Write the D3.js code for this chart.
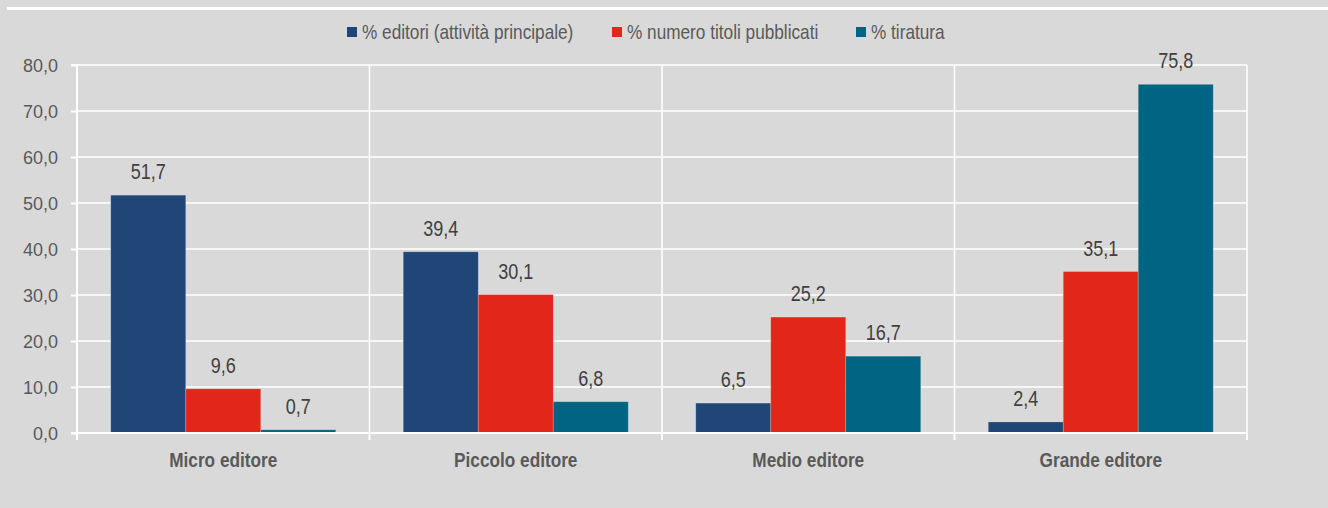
<!DOCTYPE html>
<html>
<head>
<meta charset="utf-8">
<script src="https://cdn.jsdelivr.net/npm/d3@7"></script>
<style>
  html, body { margin: 0; padding: 0; background: #d9d9d9; }
  svg { display: block; }
  text { font-family: "Liberation Sans", Arial, sans-serif; }
</style>
</head>
<body>
<svg id="chart" width="1328" height="508"></svg>
<script>
const categories = ["Micro editore", "Piccolo editore", "Medio editore", "Grande editore"];
const seriesNames = ["% editori (attività principale)", "% numero titoli pubblicati", "% tiratura"];
const seriesColors = ["#1f4677", "#e3261a", "#006482"];
const editori = [51.7, 39.4, 6.5, 2.4];
const titoli = [9.6, 30.1, 25.2, 35.1];
const tiratura = [0.7, 6.8, 16.7, 75.8];
const yTicks = [0, 10, 20, 30, 40, 50, 60, 70, 80];

const seriesValues = [editori, titoli, tiratura];
const fmt = v => v.toFixed(1).replace(".", ",");
const NARROW = 0.82; // narrow-face emulation

(function () {
const svg = d3.select("#chart");
const W = 1328, H = 508;
const mLeft = 77, mRight = 1247, mTop = 65, mBottom = 433;

svg.append("rect").attr("width", W).attr("height", H).attr("fill", "#d9d9d9");
// top white rule
svg.append("rect").attr("x", 7).attr("y", 7).attr("width", W - 7).attr("height", 3).attr("fill", "#ffffff");

const x0 = d3.scaleBand().domain(categories).range([mLeft, mRight]).paddingInner(0).paddingOuter(0);
const x1 = d3.scaleBand().domain(d3.range(seriesNames.length)).range([0, x0.bandwidth()]).paddingInner(0).paddingOuter(0.45);
const y = d3.scaleLinear().domain([0, 80]).range([mBottom, mTop]);

// horizontal gridlines
svg.append("g").selectAll("line").data(yTicks.slice(1)).join("line")
  .attr("x1", mLeft).attr("x2", mRight)
  .attr("y1", d => y(d)).attr("y2", d => y(d))
  .attr("stroke", "#ffffff").attr("stroke-width", 1.5);

// vertical category separators
const seps = categories.map(c => x0(c) + x0.bandwidth());
svg.append("g").selectAll("line").data(seps).join("line")
  .attr("x1", d => d).attr("x2", d => d)
  .attr("y1", mTop).attr("y2", mBottom)
  .attr("stroke", "#ffffff").attr("stroke-width", 1.5);

// bars
const data = [];
categories.forEach((c, ci) => seriesValues.forEach((vals, si) => data.push({c, si, v: vals[ci]})));
svg.append("g").selectAll("rect").data(data).join("rect")
  .attr("x", d => x0(d.c) + x1(d.si))
  .attr("y", d => y(d.v))
  .attr("width", x1.bandwidth())
  .attr("height", d => y(0) - y(d.v))
  .attr("fill", d => seriesColors[d.si])
  .attr("stroke", "rgba(255,255,255,0.25)").attr("stroke-width", 0.8);

// value labels
svg.append("g").selectAll("text").data(data).join("text")
  .attr("transform", d => `translate(${x0(d.c) + x1(d.si) + x1.bandwidth() / 2},${y(d.v) - 16}) scale(${NARROW},1)`)
  .attr("text-anchor", "middle")
  .attr("font-size", 22)
  .attr("fill", "#404040")
  .text(d => fmt(d.v));

// y axis
const yAxis = d3.axisLeft(y).tickValues(yTicks).tickSize(6).tickPadding(13).tickFormat(fmt);
const gy = svg.append("g").attr("transform", `translate(${mLeft},0)`).call(yAxis);
gy.select(".domain").attr("stroke", "#ffffff").attr("stroke-width", 2).attr("d", `M-6,${mTop}H0V${mBottom}H-6`);
gy.selectAll(".tick line").attr("stroke", "#ffffff").attr("stroke-width", 2);
gy.selectAll(".tick text").attr("font-family", "Liberation Sans, Arial, sans-serif")
  .attr("font-size", 18).attr("fill", "#595959").attr("dy", "0.38em");

// x axis
const xAxis = d3.axisBottom(x0).tickSize(0).tickPadding(0);
const gx = svg.append("g").attr("transform", `translate(0,${mBottom})`).call(xAxis);
gx.select(".domain").attr("stroke", "#ffffff").attr("stroke-width", 2).attr("d", `M${mLeft},0H${mRight}`);
gx.selectAll(".tick text")
  .attr("font-family", "Liberation Sans, Arial, sans-serif")
  .attr("font-size", 21).attr("font-weight", "bold")
  .attr("fill", "#595959").attr("y", 0).attr("dy", 0)
  .attr("transform", `translate(0,34) scale(${NARROW},1)`);
// boundary tick marks
const bounds = [mLeft].concat(seps);
gx.append("g").selectAll("line").data(bounds).join("line")
  .attr("x1", d => d).attr("x2", d => d).attr("y1", 0).attr("y2", 7)
  .attr("stroke", "#ffffff").attr("stroke-width", 2);

// legend
const legendX = [347, 612, 856];
const lg = svg.append("g");
seriesNames.forEach((name, i) => {
  lg.append("rect").attr("x", legendX[i]).attr("y", 27).attr("width", 10).attr("height", 10).attr("fill", seriesColors[i]);
  lg.append("text").attr("transform", `translate(${legendX[i] + 15},39) scale(${NARROW},1)`)
    .attr("font-size", 21).attr("fill", "#595959").text(name);
});
})();
</script>
</body>
</html>
